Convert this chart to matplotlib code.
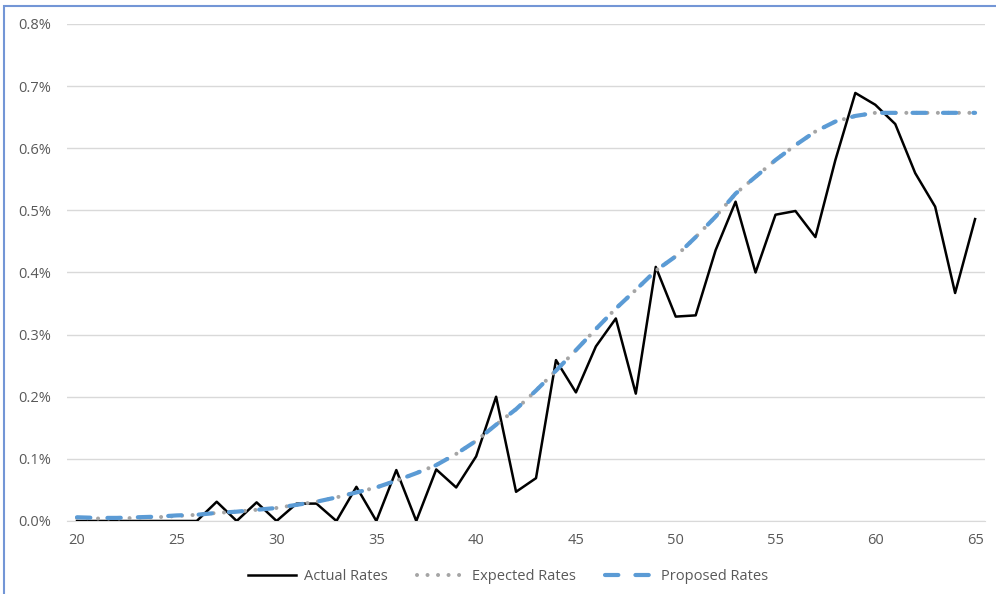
import matplotlib.pyplot as plt
from matplotlib.patches import Rectangle
from matplotlib.ticker import FuncFormatter

# ages 20..65
ages = list(range(20, 66))

# actual rates (%)
actual = [0.0, 0.0, 0.0, 0.0, 0.0, 0.0, 0.0, 0.031, 0.0, 0.030,
          0.0, 0.028, 0.028, 0.0, 0.055, 0.0, 0.082, 0.0, 0.083, 0.054,
          0.104, 0.200, 0.047, 0.069, 0.259, 0.207, 0.281, 0.326, 0.205, 0.409,
          0.329, 0.331, 0.436, 0.514, 0.400, 0.493, 0.499, 0.457, 0.581, 0.689,
          0.670, 0.639, 0.560, 0.506, 0.367, 0.486]

# expected rates (%)
expected = [0.005, 0.004, 0.004, 0.005, 0.006, 0.008, 0.010, 0.013, 0.015, 0.018,
            0.021, 0.026, 0.031, 0.038, 0.046, 0.054, 0.065, 0.077, 0.090, 0.108,
            0.129, 0.155, 0.180, 0.210, 0.242, 0.275, 0.309, 0.342, 0.372, 0.403,
            0.426, 0.457, 0.490, 0.527, 0.554, 0.581, 0.605, 0.627, 0.643, 0.652,
            0.657, 0.657, 0.657, 0.657, 0.657, 0.657]

# proposed rates (%)
proposed = [0.006, 0.005, 0.005, 0.006, 0.007, 0.009, 0.010, 0.013, 0.015, 0.018,
            0.021, 0.026, 0.031, 0.038, 0.046, 0.054, 0.065, 0.077, 0.090, 0.108,
            0.129, 0.155, 0.180, 0.210, 0.242, 0.275, 0.309, 0.342, 0.372, 0.403,
            0.426, 0.457, 0.490, 0.527, 0.554, 0.581, 0.605, 0.627, 0.643, 0.652,
            0.657, 0.657, 0.657, 0.657, 0.657, 0.657]

text_color = '#595959'
grid_color = '#d9d9d9'
plt.rcParams['font.family'] = ['Open Sans', 'DejaVu Sans']
plt.rcParams['font.size'] = 10.5

fig = plt.figure(figsize=(9.96, 5.94), dpi=100)
ax = fig.add_axes([0.0673, 0.1229, 0.9217, 0.8367])

ax.plot(ages, actual, color='black', lw=1.8, label='Actual Rates', zorder=3)
ax.plot(ages, expected, color='#a5a5a5', lw=2.9, linestyle=(0, (0.01, 2.6)),
        dash_capstyle='round', label='Expected Rates', zorder=4)
ax.plot(ages, proposed, color='#5b9bd5', lw=3, linestyle=(0, (3.2, 4.1)),
        dash_capstyle='round', label='Proposed Rates', zorder=5)

ax.set_xlim(19.5, 65.5)
ax.set_ylim(0, 0.8)
ax.set_xticks(range(20, 66, 5))
ax.set_yticks([i / 10 for i in range(9)])
ax.yaxis.set_major_formatter(FuncFormatter(lambda v, p: f'{v:.1f}%'))
ax.tick_params(length=0, colors=text_color, labelsize=10.5)
ax.tick_params(axis='y', pad=11.5)
ax.tick_params(axis='x', pad=9)
ax.grid(axis='y', color=grid_color, lw=1)
for s in ['top', 'right', 'left']:
    ax.spines[s].set_visible(False)
ax.spines['bottom'].set_color(grid_color)
ax.set_axisbelow(True)

leg = fig.legend(loc='center', bbox_to_anchor=(0.51, 0.03), ncol=3, frameon=False,
                 handlelength=3.3, handletextpad=0.5, columnspacing=2.0, fontsize=10.5)
for t in leg.get_texts():
    t.set_color(text_color)

# outer frame (left and top edges visible)
fig.patches.append(Rectangle((4 / 996, -0.1), 1.2, 1 - 6 / 594 + 0.1, transform=fig.transFigure,
                             fill=False, edgecolor='#7396d6', lw=1.5))

plt.savefig('out.png', dpi=100)
